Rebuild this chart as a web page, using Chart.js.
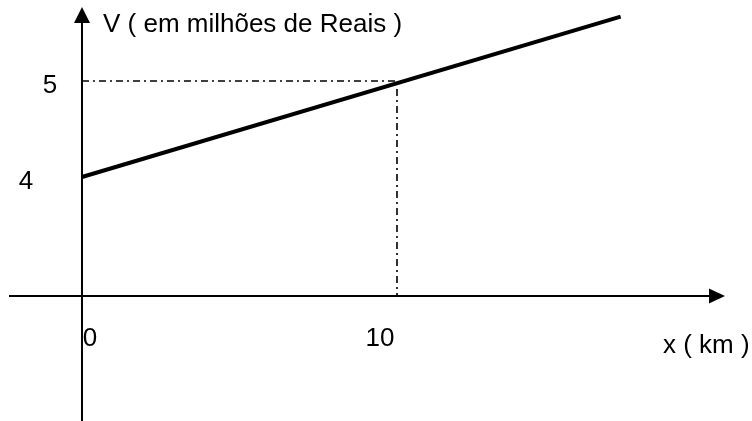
<!DOCTYPE html>
<html lang="pt">
  <head>
    <meta charset="UTF-8" />
    <title>V x km</title>
    <style>
      html, body {
        margin: 0;
        padding: 0;
        background: #fff;
      }
      .container {
        width: 752px;
        height: 421px;
      }
    </style>
    <script src="https://cdn.jsdelivr.net/npm/chart.js"></script>
  </head>
  <body>
    <div class="container">
      <canvas id="chart" width="752" height="421"></canvas>
    </div>
    <script>
      // dados do gráfico
      const lineX = [0, 17.1];
      const lineV = [4, 5.67];
      const guideX = [0, 10, 10];
      const guideV = [5, 5, 2.76];
      const xTicks = ["0", "10"];
      const xTickValues = [0, 10];
      const yTicks = ["4", "5"];
      const yTickValues = [4, 5];
      const yTitle = "V ( em milhões de Reais )";
      const xTitle = "x ( km )";
      const xAxisAt = 2.76; // valor de V onde passa o eixo x

      const font = "26px 'Liberation Sans', Arial, sans-serif";

      const axesPlugin = {
        id: "axes",
        beforeDatasetsDraw(chart) {
          const { ctx } = chart;
          const xs = chart.scales.x;
          const ys = chart.scales.y;
          const ax = xs.getPixelForValue(0);
          const ay = ys.getPixelForValue(xAxisAt);

          ctx.save();
          ctx.strokeStyle = "#000";
          ctx.fillStyle = "#000";
          ctx.lineWidth = 2;

          // eixo y
          ctx.beginPath();
          ctx.moveTo(ax, chart.height);
          ctx.lineTo(ax, 20);
          ctx.stroke();
          ctx.beginPath();
          ctx.moveTo(ax, 7);
          ctx.lineTo(ax - 8, 23);
          ctx.lineTo(ax + 8, 23);
          ctx.closePath();
          ctx.fill();

          // eixo x
          ctx.beginPath();
          ctx.moveTo(9, ay);
          ctx.lineTo(712, ay);
          ctx.stroke();
          ctx.beginPath();
          ctx.moveTo(725, ay);
          ctx.lineTo(709, ay - 7.5);
          ctx.lineTo(709, ay + 7.5);
          ctx.closePath();
          ctx.fill();

          // textos
          ctx.font = font;
          ctx.textAlign = "left";
          ctx.textBaseline = "alphabetic";
          ctx.fillText(yTitle, ax + 21, 32);
          ctx.fillText(xTitle, 663, ay + 57);

          ctx.textAlign = "center";
          ctx.textBaseline = "middle";
          const yOffsets = [-56, -32];
          yTicks.forEach((t, i) => {
            ctx.fillText(t, ax + yOffsets[i], ys.getPixelForValue(yTickValues[i]) + 5);
          });
          const xOffsets = [8, -17];
          xTicks.forEach((t, i) => {
            ctx.fillText(t, xs.getPixelForValue(xTickValues[i]) + xOffsets[i], ay + 43);
          });
          ctx.restore();
        },
      };

      new Chart(document.getElementById("chart"), {
        type: "scatter",
        data: {
          datasets: [
            {
              data: guideX.map((x, i) => ({ x: x, y: guideV[i] })),
              showLine: true,
              borderColor: "#000",
              borderWidth: 1.6,
              borderDash: [7, 4, 2, 4],
              pointRadius: 0,
              tension: 0,
            },
            {
              data: lineX.map((x, i) => ({ x: x, y: lineV[i] })),
              showLine: true,
              borderColor: "#000",
              borderWidth: 4,
              borderCapStyle: "butt",
              pointRadius: 0,
              tension: 0,
            },
          ],
        },
        options: {
          responsive: false,
          devicePixelRatio: 1,
          animation: false,
          layout: { padding: 0 },
          plugins: {
            legend: { display: false },
            tooltip: { enabled: false },
          },
          scales: {
            x: { type: "linear", display: false, min: -2.603, max: 21.27 },
            y: { type: "linear", display: false, min: 1.458, max: 5.844 },
          },
        },
        plugins: [axesPlugin],
      });
    </script>
  </body>
</html>
